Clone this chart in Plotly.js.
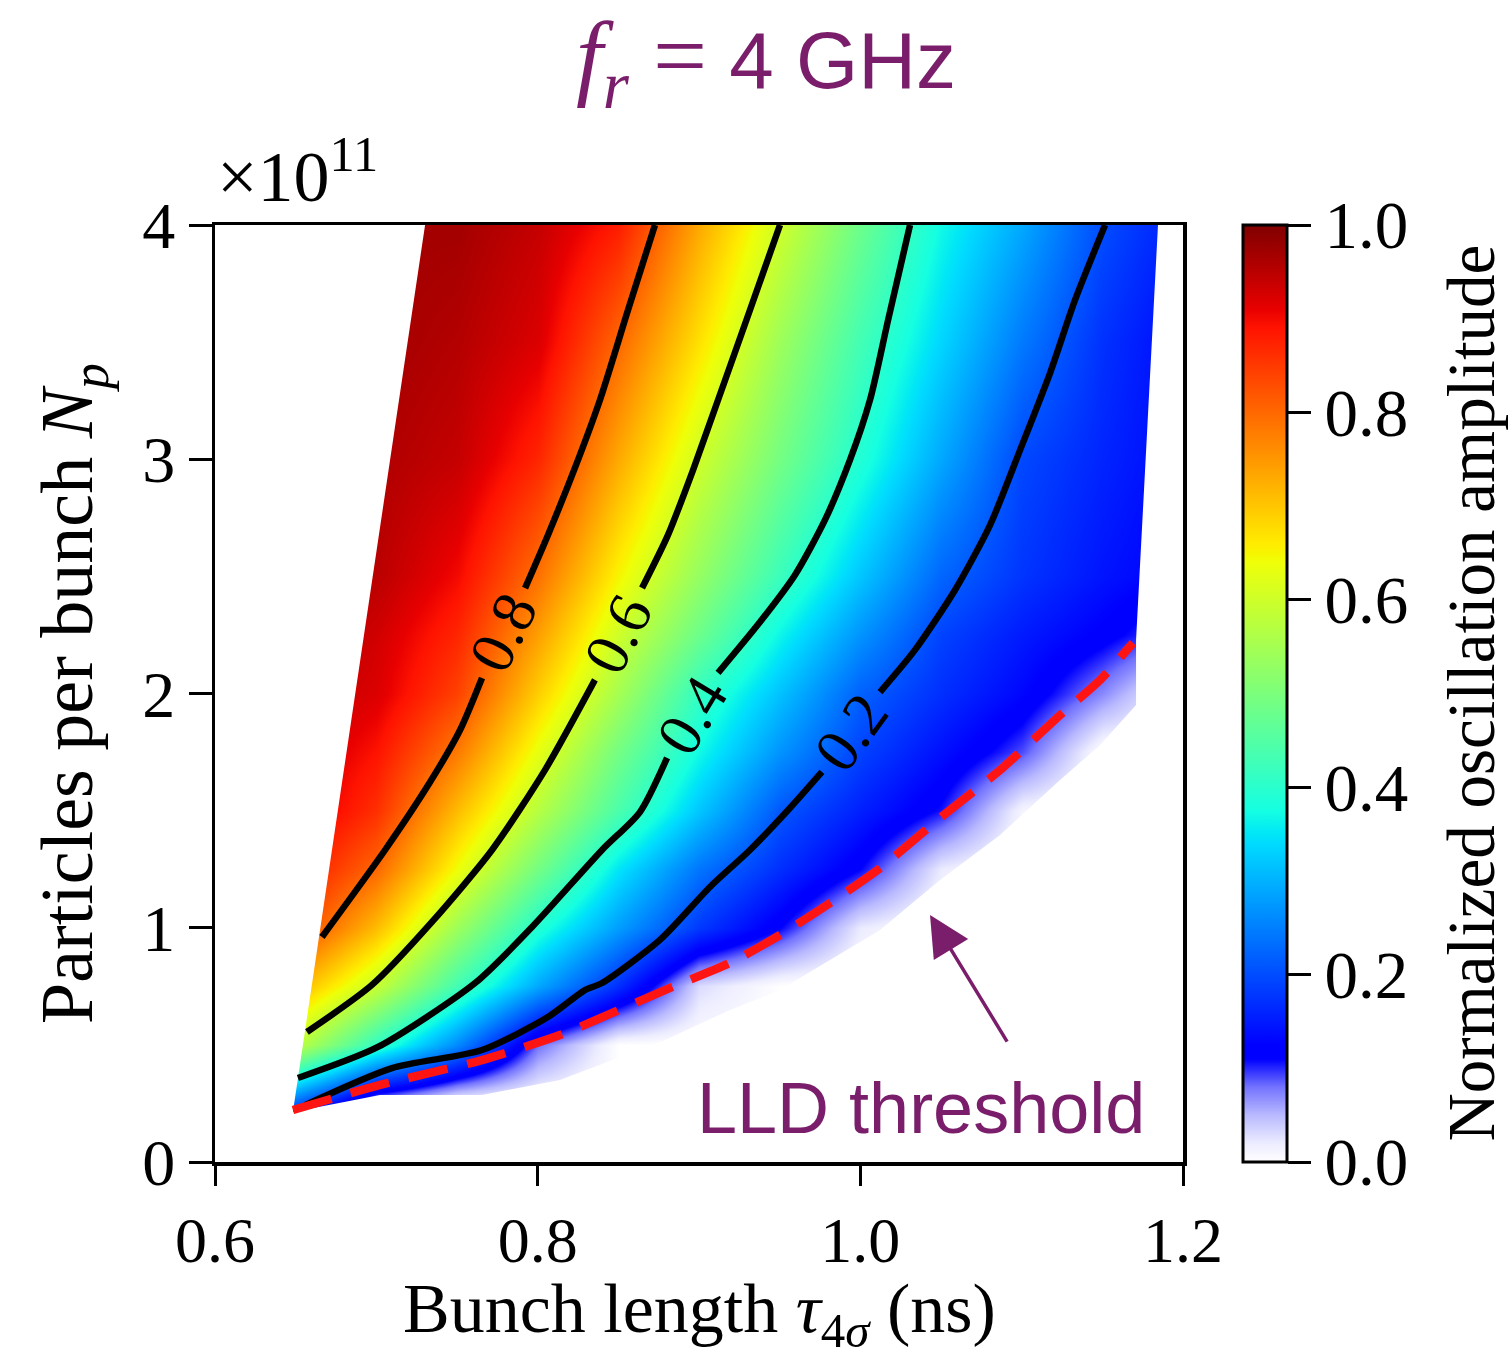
<!DOCTYPE html>
<html><head><meta charset="utf-8">
<script src="https://cdn.plot.ly/plotly-3.0.1.min.js"></script>
<style>html,body{margin:0;padding:0;background:#fff}</style>
</head><body>
<div id="chart" style="width:1511px;height:1358px"></div>
<script>
// ---- data ----
// grid of bunch length (ns) and particles per bunch (x1e11)
const tau = [0.62, 0.65, 0.70, 0.75, 0.80, 0.85, 0.90, 0.95, 1.00, 1.05, 1.10, 1.15, 1.20];
const np  = [0, 0.25, 0.5, 0.75, 1.0, 1.25, 1.5, 1.75, 2.0, 2.25, 2.5, 3.0, 3.5, 4.0];
// normalized oscillation amplitude, one row per np value
const amp_000 = [0.15, 0.10, 0.00, 0.00, 0.00, 0.00, 0.00, 0.00, 0.00, 0.00, 0.00, 0.00, 0.00];
const amp_025 = [0.25, 0.22, 0.05, 0.00, 0.00, 0.00, 0.00, 0.00, 0.00, 0.00, 0.00, 0.00, 0.00];
const amp_050 = [0.62, 0.58, 0.41, 0.26, 0.08, 0.00, 0.00, 0.00, 0.00, 0.00, 0.00, 0.00, 0.00];
const amp_075 = [0.74, 0.72, 0.59, 0.43, 0.29, 0.17, 0.03, 0.00, 0.00, 0.00, 0.00, 0.00, 0.00];
const amp_100 = [0.86, 0.84, 0.71, 0.54, 0.39, 0.28, 0.18, 0.11, 0.02, 0.00, 0.00, 0.00, 0.00];
const amp_125 = [0.91, 0.89, 0.80, 0.64, 0.49, 0.35, 0.24, 0.17, 0.11, 0.02, 0.00, 0.00, 0.00];
const amp_150 = [0.94, 0.93, 0.86, 0.71, 0.57, 0.44, 0.32, 0.21, 0.155, 0.105, 0.01, 0.00, 0.00];
const amp_175 = [0.95, 0.94, 0.89, 0.78, 0.63, 0.49, 0.37, 0.27, 0.19, 0.14, 0.09, 0.00, 0.00];
const amp_200 = [0.96, 0.95, 0.92, 0.84, 0.69, 0.55, 0.41, 0.315, 0.22, 0.17, 0.13, 0.07, 0.00];
const amp_225 = [0.96, 0.96, 0.93, 0.87, 0.74, 0.60, 0.48, 0.365, 0.27, 0.19, 0.15, 0.12, 0.08];
const amp_250 = [0.97, 0.96, 0.95, 0.90, 0.79, 0.65, 0.53, 0.42, 0.32, 0.225, 0.176, 0.144, 0.12];
const amp_300 = [0.97, 0.97, 0.96, 0.94, 0.87, 0.73, 0.60, 0.49, 0.39, 0.29, 0.195, 0.16, 0.13];
const amp_350 = [0.97, 0.97, 0.97, 0.955, 0.92, 0.80, 0.67, 0.54, 0.43, 0.335, 0.244, 0.173, 0.13];
const amp_400 = [0.97, 0.97, 0.97, 0.97, 0.94, 0.88, 0.73, 0.60, 0.48, 0.37, 0.29, 0.20, 0.15];

// contour lines (null = gap left for the inline label)
const c08x = [0.6663, 0.7054, 0.7333, 0.7519, 0.7655, null, 0.7922, 0.8064, 0.8231, 0.8386, 0.8560, 0.8727];
const c08y = [0.9605, 1.332, 1.622, 1.844, 2.066, null, 2.450, 2.677, 2.963, 3.253, 3.637, 4.0];
const c06x = [0.6570, 0.6973, 0.7345, 0.7717, 0.8045, 0.8355, null, 0.8647, 0.8808, 0.8963, 0.9118, 0.9316, 0.9502];
const c06y = [0.555, 0.756, 1.025, 1.332, 1.673, 2.058, null, 2.450, 2.677, 2.954, 3.253, 3.637, 4.0];
const c04x = [0.6514, 0.7010, 0.7612, 0.7965, 0.8399, 0.8634, 0.8802, null, 0.9118, 0.9378, 0.9595, 0.9781, 0.9936, 1.0060, 1.0172, 1.0308];
const c04y = [0.3586, 0.491, 0.764, 1.003, 1.332, 1.494, 1.725, null, 2.088, 2.305, 2.506, 2.741, 2.997, 3.253, 3.594, 4.0];
const c02x = [0.6558, 0.7097, 0.7655, 0.8064, 0.8293, 0.8399, 0.8758, 0.9068, 0.9316, 0.9564, 0.9762, null, 1.0122, 1.0339, 1.0587, 1.0804, 1.0990, 1.1176, 1.1331, 1.1517];
const c02y = [0.243, 0.401, 0.478, 0.619, 0.734, 0.764, 0.948, 1.174, 1.332, 1.511, 1.665, null, 2.006, 2.186, 2.442, 2.719, 3.039, 3.368, 3.680, 4.0];
const contourLevels = ['0.8', '0.6', '0.4', '0.2'];

// LLD threshold
const thrX = [0.6483, 0.7023, 0.7655, 0.8138, 0.8789, 0.9192, 0.9502, 0.9812, 1.0122, 1.0494, 1.0866, 1.1238, 1.1486, 1.1690];
const thrY = [0.222, 0.329, 0.435, 0.542, 0.734, 0.850, 0.969, 1.106, 1.255, 1.469, 1.673, 1.908, 2.058, 2.216];

// outline of the region without data (left edge, faded lower edge, right edge)
const blankX = [0.55, 0.55, 0.7367, 0.6483, 0.6483, 0.7023, 0.7655, 0.8138, 0.8789, 0.9192, 0.9502, 0.9812, 1.0122, 1.0494, 1.0866, 1.1238, 1.1486, 1.1709, 1.1709, 1.1777, 1.1845, 1.1868, 1.25, 1.25];
const blankY = [-0.3, 4.3, 4.3, 0.222, 0.213, 0.286, 0.286, 0.350, 0.521, 0.649, 0.734, 0.862, 0.990, 1.204, 1.396, 1.631, 1.780, 1.951, 2.228, 3.112, 4.0, 4.3, 4.3, -0.3];

// ticks
const xTickVals = [0.6, 0.8, 1.0, 1.2];
const xTickText = ['0.6', '0.8', '1.0', '1.2'];
const yTickVals = [0, 1, 2, 3, 4];
const yTickText = ['0', '1', '2', '3', '4'];
const cbTickVals = [0, 0.2, 0.4, 0.6, 0.8, 1.0];
const cbTickText = ['0.0', '0.2', '0.4', '0.6', '0.8', '1.0'];

// ---- styles ----
const SERIF = 'Liberation Serif, Times New Roman, serif';
const SANS = 'Liberation Sans, Arial, sans-serif';
const PURPLE = '#7a1d6a';

const colorscale = [
  [0.00, 'rgb(255,255,255)'],
  [0.02, 'rgb(236,236,255)'],
  [0.05, 'rgb(185,185,255)'],
  [0.08, 'rgb(115,115,255)'],
  [0.11, 'rgb(0,0,255)'],
  [0.125, 'rgb(0,0,255)'],
  [0.34, 'rgb(0,219,255)'],
  [0.35, 'rgb(0,230,247)'],
  [0.375, 'rgb(21,255,226)'],
  [0.64, 'rgb(239,255,8)'],
  [0.65, 'rgb(247,245,0)'],
  [0.66, 'rgb(255,236,0)'],
  [0.89, 'rgb(255,19,0)'],
  [0.91, 'rgb(232,0,0)'],
  [1.00, 'rgb(128,0,0)']
];

const z = [amp_000, amp_025, amp_050, amp_075, amp_100, amp_125, amp_150, amp_175,
           amp_200, amp_225, amp_250, amp_300, amp_350, amp_400];

const traces = [
  {
    type: 'heatmap', x: tau, y: np, z: z, zmin: 0, zmax: 1, zsmooth: 'best',
    colorscale: colorscale, hoverinfo: 'skip',
    colorbar: {
      x: 1.062, xanchor: 'left', xref: 'paper', xpad: 0,
      y: 0.5, yanchor: 'middle', len: 1, lenmode: 'fraction', ypad: 0,
      thickness: 44, thicknessmode: 'pixels',
      outlinewidth: 3, outlinecolor: 'black',
      ticks: 'outside', ticklen: 23, tickwidth: 3, tickcolor: 'black',
      tickvals: cbTickVals, ticktext: cbTickText,
      tickfont: {family: SERIF, size: 67, color: 'black'}
    }
  },
  {
    type: 'scatter', mode: 'lines', x: blankX, y: blankY, fill: 'toself',
    fillcolor: 'white', line: {width: 0, color: 'white'}, hoverinfo: 'skip', showlegend: false
  }
];
[[c08x, c08y], [c06x, c06y], [c04x, c04y], [c02x, c02y]].forEach((c, i) => {
  traces.push({type: 'scatter', mode: 'lines', x: c[0], y: c[1], connectgaps: false,
    name: contourLevels[i], line: {color: 'black', width: 6.5, shape: 'spline', smoothing: 0.7},
    hoverinfo: 'skip', showlegend: false});
});
traces.push({type: 'scatter', mode: 'lines', x: thrX, y: thrY, name: 'LLD threshold',
  line: {color: 'rgb(255,20,20)', width: 8.5, dash: '40px,20px', shape: 'spline', smoothing: 0.6},
  hoverinfo: 'skip', showlegend: false});

const labelFont = {family: SERIF, size: 62, color: 'black'};
const annotations = [
  {x: 0.7785, y: 2.263, text: contourLevels[0], textangle: -64, showarrow: false, font: labelFont},
  {x: 0.8498, y: 2.254, text: contourLevels[1], textangle: -63, showarrow: false, font: labelFont},
  {x: 0.8957, y: 1.908, text: contourLevels[2], textangle: -59, showarrow: false, font: labelFont},
  {x: 0.9942, y: 1.836, text: contourLevels[3], textangle: -54, showarrow: false, font: labelFont},
  {x: 1.0376, y: 0.2305, text: 'LLD threshold', showarrow: false,
   font: {family: SANS, size: 72, color: PURPLE}},
  {x: 1.0432, y: 1.054, text: '', showarrow: true, ax: 78, ay: 128,
   arrowcolor: PURPLE, arrowwidth: 3.5, arrowhead: 2, arrowsize: 2.3, standoff: 0, startstandoff: 0},
  {xref: 'paper', yref: 'paper', x: 0, y: 1, xanchor: 'left', yanchor: 'bottom', xshift: 0, yshift: 6,
   text: '×10<sup>11</sup>', showarrow: false, font: {family: SERIF, size: 72, color: 'black'}},
  // x-axis title
  {xref: 'paper', yref: 'paper', x: 0.5, y: 0, xanchor: 'center', yanchor: 'top', yshift: -107,
   borderpad: 0, text: 'Bunch length <i>τ</i><sub>4<i>σ</i></sub> (ns)', showarrow: false,
   font: {family: SERIF, size: 70, color: 'black'}},
  // colour-bar title
  {xref: 'paper', yref: 'paper', x: 1.2965, y: 0.5, xanchor: 'center', yanchor: 'middle',
   text: 'Normalized oscillation amplitude', textangle: -90, showarrow: false,
   font: {family: SERIF, size: 67, color: 'black'}}
];

const axisCommon = {
  ticks: 'outside', ticklen: 23, tickwidth: 3, tickcolor: 'black',
  showline: true, linewidth: 3.5, linecolor: 'black', mirror: true,
  showgrid: false, zeroline: false,
  tickfont: {family: SERIF, size: 66, color: 'black'}
};

const layout = {
  width: 1511, height: 1358,
  margin: {l: 215, r: 328, t: 225, b: 196, pad: 0},
  paper_bgcolor: 'white', plot_bgcolor: 'white', showlegend: false,
  title: {
    text: '<span style="font-family:Liberation Serif;font-size:96px"><i>f<sub>r</sub></i> =</span> 4 GHz',
    font: {family: SANS, size: 80, color: PURPLE},
    xref: 'container', x: 0.507, xanchor: 'center', yref: 'container', y: 0.956, yanchor: 'middle'
  },
  xaxis: Object.assign({}, axisCommon, {
    range: [0.6, 1.2], tickvals: xTickVals, ticktext: xTickText,
    ticklen: 20, tickfont: {family: SERIF, size: 64, color: 'black'}
  }),
  yaxis: Object.assign({}, axisCommon, {
    range: [0, 4], tickvals: yTickVals, ticktext: yTickText,
    title: {text: 'Particles per bunch <i>N</i><sub><i>p</i></sub>', standoff: 26,
            font: {family: SERIF, size: 74, color: 'black'}}
  }),
  annotations: annotations
};

Plotly.newPlot('chart', traces, layout, {displayModeBar: false, staticPlot: true});
</script>
</body></html>
